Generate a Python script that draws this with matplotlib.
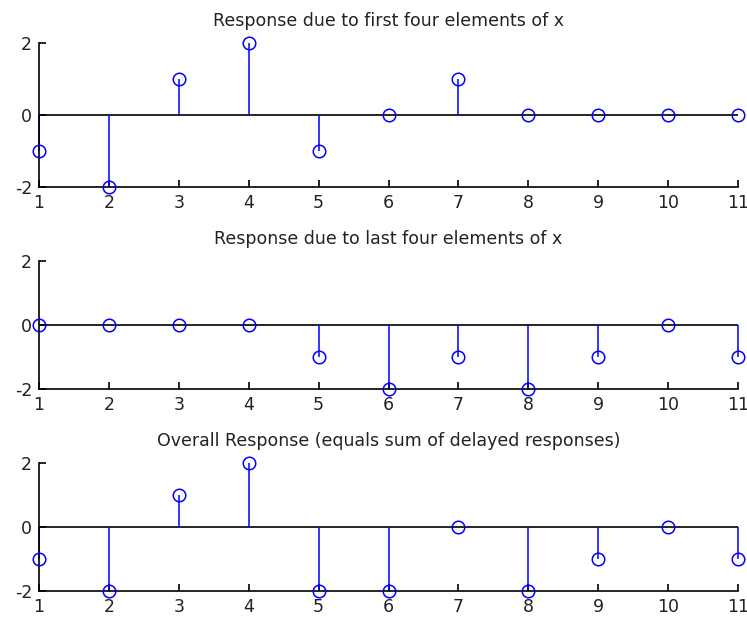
import matplotlib.pyplot as plt
import numpy as np

n = np.arange(1, 12)
y_first = [-1, -2, 1, 2, -1, 0, 1, 0, 0, 0, 0]
y_last = [0, 0, 0, 0, -1, -2, -1, -2, -1, 0, -1]
y_total = [-1, -2, 1, 2, -2, -2, 0, -2, -1, 0, -1]
titles = ["Response due to first four elements of x",
          "Response due to last four elements of x",
          "Overall Response (equals sum of delayed responses)"]

W, H = 747, 618
plt.rcParams['font.family'] = ['DejaVu Sans']
plt.rcParams['axes.unicode_minus'] = False
fig = plt.figure(figsize=(W / 100, H / 100), dpi=100)

# axes boxes in pixels: (left, top, right, bottom)
boxes = [(39, 43, 738, 187), (39, 261, 738, 389), (39, 463, 738, 591)]

for (l, t, r, b), y, title in zip(boxes, [y_first, y_last, y_total], titles):
    ax = fig.add_axes([l / W, 1 - b / H, (r - l) / W, (b - t) / H])
    ax.vlines(n, 0, y, colors='blue', lw=1.1, clip_on=False)
    ax.axhline(0, color='black', lw=1.2, zorder=1)
    ax.plot(n, y, 'o', mfc='none', mec='blue', ms=9, mew=1.1, clip_on=False, zorder=3)
    ax.set_xlim(1, 11)
    ax.set_ylim(-2, 2)
    ax.set_xticks(n)
    ax.set_yticks([-2, 0, 2])
    ax.set_title(title, fontsize=12.5, pad=12, color='#222222')
    for s in ['top', 'right']:
        ax.spines[s].set_visible(False)
    for s in ['left', 'bottom']:
        ax.spines[s].set_linewidth(1.2)
    ax.tick_params(direction='in', length=5, width=1.2, labelsize=12.5,
                   labelcolor='#222222')
    ax.tick_params(axis='x', pad=5)
    ax.tick_params(axis='y', pad=5)

fig.savefig('out.png', dpi=100)
